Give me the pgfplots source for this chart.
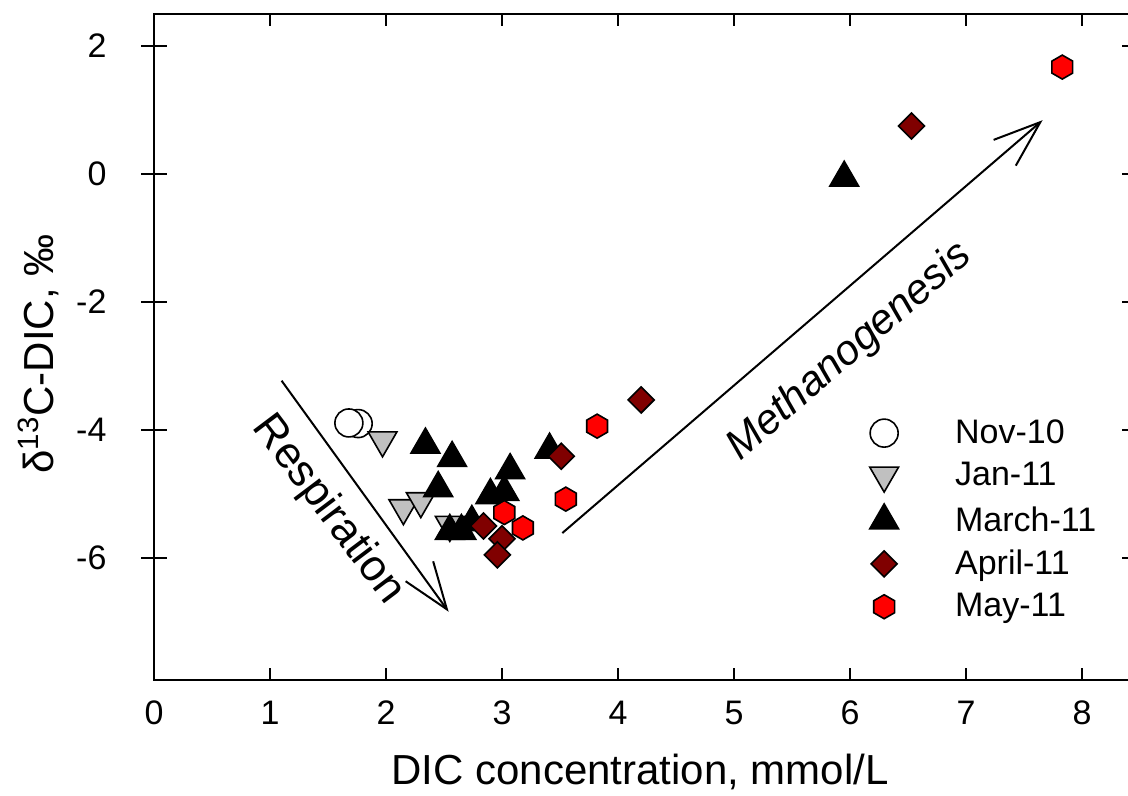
\documentclass[border=0pt]{standalone}
\usepackage{pgfplots}
\pgfplotsset{compat=1.18}
\usepackage{fontspec}
\setmainfont{Liberation Sans}
\usetikzlibrary{arrows.meta}
\definecolor{janfill}{RGB}{192,192,192}
\definecolor{aprfill}{RGB}{128,0,0}
\definecolor{mayfill}{RGB}{255,0,0}
\pgfdeclareplotmark{hexagon*}{%
 \pgfpathmoveto{\pgfpointpolar{90}{\pgfplotmarksize}}%
 \pgfpathlineto{\pgfpointpolar{150}{\pgfplotmarksize}}%
 \pgfpathlineto{\pgfpointpolar{210}{\pgfplotmarksize}}%
 \pgfpathlineto{\pgfpointpolar{270}{\pgfplotmarksize}}%
 \pgfpathlineto{\pgfpointpolar{330}{\pgfplotmarksize}}%
 \pgfpathlineto{\pgfpointpolar{30}{\pgfplotmarksize}}%
 \pgfpathclose
 \pgfusepathqfillstroke}
\begin{document}
\begin{tikzpicture}
\useasboundingbox (0pt,0pt) rectangle (564pt,398pt);
\begin{axis}[
 at={(77pt,58.2pt)}, anchor=south west,
 scale only axis, width=490.1pt, height=332.8pt,
 xmin=0, xmax=8.45, ymin=-7.9, ymax=2.5,
 axis line style={line width=1pt},
 every tick/.style={line width=1pt, black},
 xtick={0,1,2,3,4,5,6,7,8},
 ytick={-6,-4,-2,0,2},
 yticklabels={-6,-4,-2,0,2},
 xticklabels={0,1,2,3,4,5,6,7,8},
 minor tick num=0,
 xtick align=inside,
 ytick align=center,
 major tick length=12.5pt,
 xtick style={/pgfplots/major tick length=6pt},
 ticklabel style={font=\fontsize{17}{20}\selectfont},
 xticklabel style={yshift=-7pt},
 yticklabel style={xshift=-14pt},
 legend image code/.code={\path[draw=none,fill=none] (0pt,0pt) -- (42.5pt,0pt);\draw[#1] plot coordinates {(9pt,0pt)};},
 legend style={draw=none, fill=none, at={(rel axis cs:0.72,0.40)}, anchor=north west,
   font=\fontsize{17}{20}\selectfont, row sep=5.9pt, legend cell align=left,
   nodes={inner ysep=1pt}},
 clip=false,
]
\addplot[only marks, mark=*, mark size=7pt, mark options={fill=white, draw=black, line width=0.8pt}]
 coordinates {(1.76,-3.90) (1.68,-3.89)};
\addlegendentry{Nov-10}
\addplot[only marks, mark=triangle*, mark size=8.3pt, mark options={rotate=180, fill=janfill, draw=black, line width=0.8pt}]
 coordinates {(1.97,-4.16) (2.15,-5.22) (2.30,-5.11) (2.55,-5.48)};
\addlegendentry{Jan-11}
\addplot[only marks, mark=triangle*, mark size=8.3pt, mark options={fill=black, draw=black, line width=0.8pt}]
 coordinates {(2.34,-4.23) (2.57,-4.44) (2.45,-4.91) (2.90,-5.02) (3.07,-4.63) (3.02,-4.97) (3.41,-4.31) (2.55,-5.58) (2.65,-5.58) (2.74,-5.44) (5.95,-0.06)};
\addlegendentry{March-11}
\addplot[only marks, mark=square*, mark size=4.6pt, mark options={rotate=45, fill=aprfill, draw=black, line width=0.8pt}]
 coordinates {(2.84,-5.50) (3.00,-5.70) (2.96,-5.95) (3.51,-4.41) (4.20,-3.53) (6.53,0.75)};
\addlegendentry{April-11}
\addplot[only marks, mark=hexagon*, mark size=6pt, mark options={fill=mayfill, draw=black, line width=0.8pt}]
 coordinates {(3.02,-5.29) (3.18,-5.53) (3.55,-5.08) (3.82,-3.94) (7.83,1.67)};
\addlegendentry{May-11}
\draw[line width=1pt, -{Straight Barb[length=23.5pt,width=17pt]}] (axis cs:1.10,-3.23) -- (axis cs:2.54,-6.84);
\draw[line width=1pt, -{Straight Barb[length=23.5pt,width=17pt]}] (axis cs:3.52,-5.61) -- (axis cs:7.66,0.84);
\node[rotate=-53, font=\fontsize{22}{26}\selectfont] at (axis cs:1.50,-5.25) {Respiration};
\node[rotate=41, font=\fontsize{21}{25}\selectfont\itshape] at (axis cs:6.00,-2.78) {Methanogenesis};
\end{axis}
\node[font=\fontsize{21}{25}\selectfont] at (320pt,12pt) {DIC concentration, mmol/L};
\node[rotate=90, font=\fontsize{21}{25}\selectfont] at (19pt,221pt) {δ\textsuperscript{13}C-DIC, ‰};
\end{tikzpicture}
\end{document}
